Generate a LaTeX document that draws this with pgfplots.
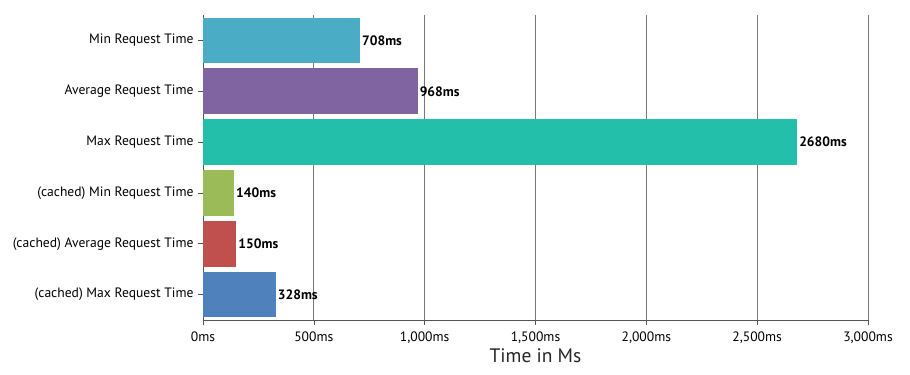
\documentclass[border=0pt]{standalone}
\usepackage{pgfplots}
\pgfplotsset{compat=1.18}
\usepackage{fontspec}
\setmainfont{PT Sans}
\definecolor{cA}{HTML}{4BACC6}
\definecolor{cB}{HTML}{8064A2}
\definecolor{cC}{HTML}{23BFAA}
\definecolor{cD}{HTML}{9BBB59}
\definecolor{cE}{HTML}{C0504D}
\definecolor{cF}{HTML}{4F81BD}
\definecolor{gridc}{HTML}{777777}
\definecolor{axc}{HTML}{555555}
\begin{document}
\begin{tikzpicture}
\path[use as bounding box] (-203bp,-55bp) rectangle (707bp,320bp);
\begin{axis}[
  at={(0,0)}, anchor=south west,
  scale only axis, width=665bp, height=305bp,
  xbar, bar width=0.9, bar shift=0pt,
  xmin=0, xmax=3000, ymin=-0.5, ymax=5.5, y dir=reverse,
  axis x line*=bottom, axis y line*=left,
  axis line style={axc, line width=0.8pt},
  xtick={0,500,1000,1500,2000,2500,3000},
  xticklabels={0ms,500ms,{1,000ms},{1,500ms},{2,000ms},{2,500ms},{3,000ms}},
  ytick={0,1,2,3,4,5},
  yticklabels={Min Request Time,Average Request Time,Max Request Time,(cached) Min Request Time,(cached) Average Request Time,(cached) Max Request Time},
  tick align=outside, major tick length=5bp,
  tick style={axc, line width=0.6pt},
  xmajorgrids, major grid style={gridc, line width=0.8pt},
  ticklabel style={font=\fontsize{13.6bp}{15bp}\selectfont, text=black},
  xticklabel style={yshift=-3bp},
  yticklabel style={xshift=-1bp},
  xlabel={Time in Ms},
  xlabel style={font=\fontsize{19.5bp}{21bp}\selectfont, text=black!85, yshift=1bp},
  nodes near coords={\pgfmathprintnumber[fixed,1000 sep={},assume math mode=true]{\pgfplotspointmeta}ms},
  nodes near coords style={font=\bfseries\fontsize{13.6bp}{15bp}\selectfont, text=black, anchor=west, inner sep=2bp},
  every axis plot/.append style={draw=none},
]
\addplot[fill=cA] coordinates {(708,0)};
\addplot[fill=cB] coordinates {(968,1)};
\addplot[fill=cC] coordinates {(2680,2)};
\addplot[fill=cD] coordinates {(140,3)};
\addplot[fill=cE] coordinates {(150,4)};
\addplot[fill=cF] coordinates {(328,5)};
\end{axis}
\end{tikzpicture}
\end{document}
